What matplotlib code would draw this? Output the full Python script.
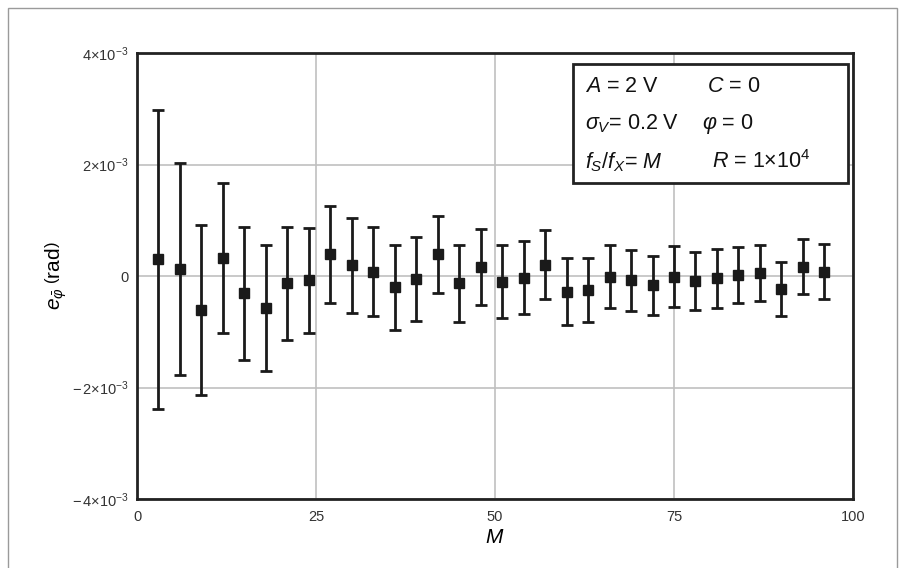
import matplotlib
matplotlib.use("Agg")
import matplotlib.pyplot as plt
from matplotlib.patches import Rectangle

plt.rcParams['font.family'] = ['Liberation Sans', 'DejaVu Sans']
plt.rcParams['mathtext.fontset'] = 'custom'
plt.rcParams['mathtext.rm'] = 'Liberation Sans'
plt.rcParams['mathtext.it'] = 'Liberation Sans:italic'

# data (values in units of 1e-3 rad)
M = list(range(3, 97, 3))
e_phi = [0.30, 0.12, -0.61, 0.32, -0.31, -0.57, -0.13, -0.08, 0.39, 0.19, 0.08,
         -0.20, -0.05, 0.39, -0.13, 0.16, -0.10, -0.03, 0.20, -0.28, -0.25, -0.01,
         -0.08, -0.17, -0.01, -0.09, -0.04, 0.02, 0.05, -0.23, 0.17, 0.08]
err = [2.68, 1.90, 1.52, 1.35, 1.19, 1.13, 1.01, 0.94, 0.87, 0.85, 0.80,
       0.76, 0.75, 0.69, 0.69, 0.68, 0.66, 0.65, 0.62, 0.60, 0.57, 0.57,
       0.55, 0.53, 0.55, 0.52, 0.53, 0.50, 0.50, 0.49, 0.50, 0.49]
yticks = [-4e-3, -2e-3, 0, 2e-3, 4e-3]
ytick_labels = [r'$-\,4{\times}10^{-3}$', r'$-\,2{\times}10^{-3}$', '0',
                r'$2{\times}10^{-3}$', r'$4{\times}10^{-3}$']
xticks = [0, 25, 50, 75, 100]

fig = plt.figure(figsize=(9.06, 5.68), dpi=100)
ax = fig.add_axes([137/906, 1-499/568, (853-137)/906, (499-53)/568])

ax.errorbar(M, [v*1e-3 for v in e_phi], yerr=[v*1e-3 for v in err],
            fmt='s', color='#1a1a1a', ms=7, elinewidth=2, capsize=4, capthick=2)

ax.set_xlim(0, 100)
ax.set_ylim(-4e-3, 4e-3)
ax.set_xticks(xticks)
ax.set_yticks(yticks)
ax.set_yticklabels(ytick_labels)
ax.grid(True, color='#c0c0c0', lw=1.2)
ax.set_axisbelow(True)
ax.tick_params(length=0, labelsize=10.5, colors='#333333')
ax.tick_params(axis='x', pad=8)
ax.tick_params(axis='y', pad=6)
for s in ax.spines.values():
    s.set_linewidth(2)
    s.set_color('#222222')

ax.set_xlabel(r'$M$', fontsize=15, labelpad=3)
ax.set_ylabel(r'$e_{\bar{\varphi}}\;\left(\mathrm{rad}\right)$', fontsize=15, labelpad=2)

# parameter box
box = Rectangle((573/906, 1-183/568), (848-573)/906, (183-64)/568,
                transform=fig.transFigure, facecolor='white', edgecolor='#222222',
                lw=2, zorder=5)
fig.patches.append(box)
fs = 15.5
rows = [(86, [(585, r'$A$ = 2 V'), (707, r'$C$ = 0')]),
        (124, [(585, r'$\sigma_V$= 0.2 V'), (702, r'$\varphi$ = 0')]),
        (162, [(585, r'$f_S/f_X$= $M$'), (712, r'$R$ = 1$\times$10$^4$')])]
for yy, items in rows:
    for xx, t in items:
        fig.text(xx/906, 1-yy/568, t, fontsize=fs, va='center', ha='left',
                 color='#111111', zorder=6)

# outer frame
fig.patches.append(Rectangle((8/906, -0.05), (897-8)/906, 1.05-8/568,
                             transform=fig.transFigure, fill=False,
                             edgecolor='#9a9a9a', lw=1))

fig.savefig('out.png', dpi=100)
